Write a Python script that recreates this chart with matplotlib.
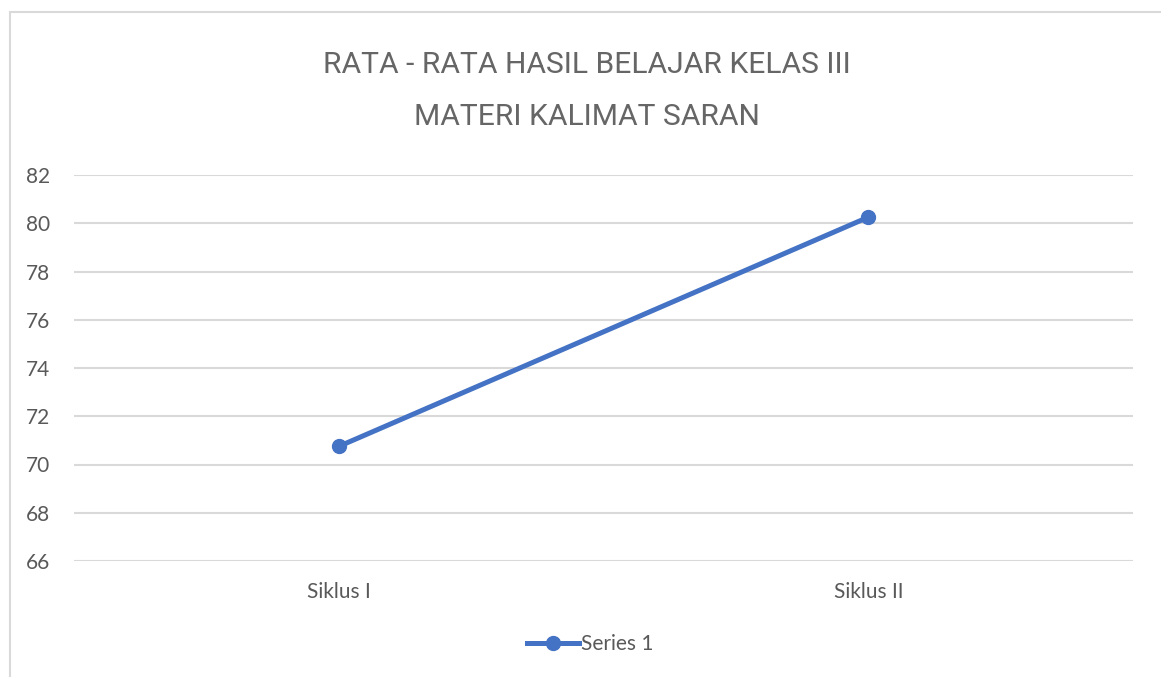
import matplotlib
matplotlib.use("Agg")
import matplotlib.pyplot as plt
from matplotlib.patches import Rectangle

categories = ["Siklus I", "Siklus II"]
values = [70.75, 80.25]
series_name = "Series 1"
y_ticks = [66, 68, 70, 72, 74, 76, 78, 80, 82]
title_lines = ["RATA - RATA HASIL BELAJAR KELAS III", "MATERI KALIMAT SARAN"]

plt.rcParams['font.family'] = ['Lato', 'DejaVu Sans']
text_color = '#595959'
line_color = '#4472C4'
grid_color = '#d9d9d9'

W, H = 1161, 677
fig = plt.figure(figsize=(W / 100, H / 100), dpi=100)

# chart border (cut off at right and bottom, as in the screenshot)
fig.patches.append(Rectangle((10 / W, -0.05), 1.2, 1 - 12 / H + 0.05,
                             transform=fig.transFigure, fill=False,
                             edgecolor=grid_color, linewidth=1.5))

ax = fig.add_axes([74 / W, 1 - 561 / H, (1133 - 74) / W, (561 - 175) / H])
x = range(len(categories))
ax.plot(x, values, color=line_color, linewidth=3.6, marker='o',
        markersize=10, label=series_name, clip_on=False, zorder=3)

ax.set_xlim(-0.5, len(categories) - 0.5)
ax.set_ylim(66, 82)
ax.set_yticks(y_ticks)
ax.set_xticks(list(x), categories)
ax.grid(axis='y', color=grid_color, linewidth=1.5)
ax.set_axisbelow(True)
for s in ax.spines.values():
    s.set_visible(False)
ax.tick_params(length=0, labelsize=15, labelcolor=text_color)
ax.tick_params(axis='y', pad=17)
ax.tick_params(axis='x', pad=15)

title_font = ['Roboto', 'Lato', 'DejaVu Sans']
fig.text(587 / W, 1 - 65 / H, title_lines[0], ha='center', va='center',
         fontsize=21.6, color='#666666', fontweight='normal', family=title_font)
fig.text(587 / W, 1 - 117 / H, title_lines[1], ha='center', va='center',
         fontsize=21.6, color='#666666', fontweight='normal', family=title_font)

ax.legend(loc='center', bbox_to_anchor=(590 / W, 1 - 644 / H),
          bbox_transform=fig.transFigure, frameon=False, fontsize=15,
          labelcolor=text_color, handlelength=2.5, handletextpad=0.1)

fig.savefig("out.png", dpi=100)
